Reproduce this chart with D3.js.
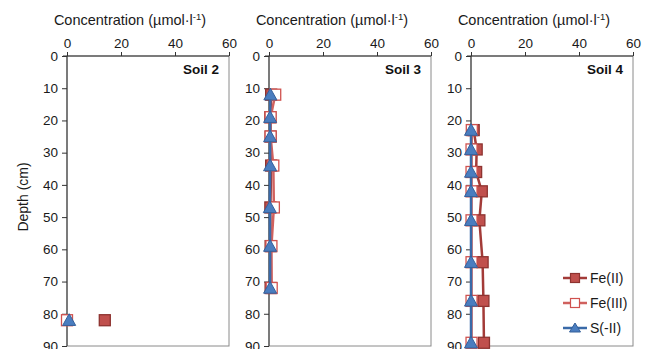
<!DOCTYPE html>
<html>
<head>
<meta charset="utf-8">
<script src="https://cdn.jsdelivr.net/npm/d3@7"></script>
<style>
  body { margin: 0; background: white; }
  svg { display: block; font-family: "Liberation Sans", Arial, sans-serif; }
</style>
</head>
<body>
<div id="chart"></div>
<script>
// panel names
const soils = ["Soil 2", "Soil 3", "Soil 4"];
const seriesNames = ["Fe(II)", "Fe(III)", "S(-II)"];

// depth (cm) per soil
const depthSoil2 = [82];
const depthSoil3 = [12, 19, 25, 34, 47, 59, 72];
const depthSoil4 = [23, 29, 36, 42, 51, 64, 76, 89];

// concentrations (µmol/l)
const fe2Soil2 = [14];
const fe3Soil2 = [0];
const sSoil2 = [0.8];

const fe2Soil3 = [0.8, 0.5, 0.6, 0.8, 0.5, 0.6, 0.6];
const fe3Soil3 = [2.3, 0.6, 0.6, 1.6, 1.8, 0.9, 1.0];
const sSoil3 = [0.5, 0.4, 0.4, 0.4, 0.3, 0.4, 0.4];

const fe2Soil4 = [1.0, 2.1, 1.9, 4.0, 3.1, 4.3, 4.6, 4.8];
const fe3Soil4 = [0.3, 0.2, 0.2, 0.2, 0.2, 0.2, 0.2, 0.2];
const sSoil4 = [0, 0, 0, 0, 0, 0, 0, 0];

const concTicks = [0, 20, 40, 60];
const depthTicks = [0, 10, 20, 30, 40, 50, 60, 70, 80, 90];

const panels = [
    { name: soils[0], depth: depthSoil2, series: [fe2Soil2, fe3Soil2, sSoil2] },
    { name: soils[1], depth: depthSoil3, series: [fe2Soil3, fe3Soil3, sSoil3] },
    { name: soils[2], depth: depthSoil4, series: [fe2Soil4, fe3Soil4, sSoil4] }
];

const styles = [
    { line: "#a33b38", fill: "#c0504d", stroke: "#8e3330", shape: "square" },
    { line: "#d0615e", fill: "#ffffff", stroke: "#d0524f", shape: "square" },
    { line: "#3a6aa8", fill: "#4a7dbf", stroke: "#35609a", shape: "triangle" }
];

const width = 651, height = 349;
const panelLeft = [67, 269, 471];
const panelW = 162;
const plotTop = 56, plotH = 290;
const textColor = "#1a1a1a";

const svg = d3.select("#chart").append("svg")
    .attr("width", width)
    .attr("height", height);

const y = d3.scaleLinear().domain([0, 90]).range([plotTop, plotTop + plotH]);

// shared y-axis title
svg.append("text")
    .attr("transform", `translate(28, ${y(45) - 4}) rotate(-90)`)
    .attr("text-anchor", "middle")
    .attr("font-size", 14)
    .attr("fill", textColor)
    .text("Depth (cm)");

function drawMarker(g, shape, cx, cy, st) {
    if (shape === "square") {
        g.append("rect")
            .attr("x", cx - 5.5).attr("y", cy - 5.5)
            .attr("width", 11).attr("height", 11)
            .attr("fill", st.fill)
            .attr("stroke", st.stroke)
            .attr("stroke-width", 1.3);
    } else {
        const s = 6.5;
        g.append("path")
            .attr("d", `M${cx},${cy - s} L${cx + s},${cy + s * 0.8} L${cx - s},${cy + s * 0.8} Z`)
            .attr("fill", st.fill)
            .attr("stroke", st.stroke)
            .attr("stroke-width", 1);
    }
}

panels.forEach((p, i) => {
    const x0 = panelLeft[i];
    const x = d3.scaleLinear().domain([0, 60]).range([x0, x0 + panelW]);
    const g = svg.append("g");

    // plot frame
    g.append("rect")
        .attr("x", x0).attr("y", plotTop)
        .attr("width", panelW).attr("height", plotH)
        .attr("fill", "white")
        .attr("stroke", "#8a8a8a")
        .attr("stroke-width", 1);

    // axis title
    g.append("text")
        .attr("x", x0 + 63)
        .attr("y", 25)
        .attr("text-anchor", "middle")
        .attr("font-size", 14.5)
        .attr("fill", textColor)
        .html("Concentration (µmol·l<tspan dy='-5' font-size='9.5'>-1</tspan><tspan dy='5'>)</tspan>");

    // top axis
    const xAxis = g.append("g")
        .attr("transform", `translate(0, ${plotTop})`)
        .call(d3.axisTop(x).tickValues(concTicks).tickSize(4).tickPadding(4));
    xAxis.selectAll("text").attr("font-size", 13.5).attr("fill", textColor)
        .attr("font-family", "Liberation Sans, Arial, sans-serif");
    xAxis.selectAll("line").attr("stroke", "#333");
    xAxis.select(".domain").attr("stroke", "#333").attr("d", `M${x0 - 4},0H${x0 + panelW}`);

    // left axis
    const yAxis = g.append("g")
        .attr("transform", `translate(${x0}, 0)`)
        .call(d3.axisLeft(y).tickValues(depthTicks).tickSize(5).tickPadding(4));
    yAxis.selectAll("text").attr("font-size", 13.5).attr("fill", textColor)
        .attr("font-family", "Liberation Sans, Arial, sans-serif");
    yAxis.selectAll("line").attr("stroke", "#333");
    yAxis.select(".domain").attr("stroke", "#333").attr("d", `M0,${plotTop}V${plotTop + plotH}`);

    // soil label
    g.append("text")
        .attr("x", x0 + panelW - 10)
        .attr("y", 74)
        .attr("text-anchor", "end")
        .attr("font-size", 13.5)
        .attr("font-weight", "bold")
        .attr("fill", "#111")
        .text(p.name);

    // series
    p.series.forEach((vals, si) => {
        const st = styles[si];
        const pts = vals.map((v, k) => [x(v), y(p.depth[k])]);
        if (pts.length > 1) {
            g.append("path")
                .attr("d", d3.line()(pts))
                .attr("fill", "none")
                .attr("stroke", st.line)
                .attr("stroke-width", 2.5);
        }
        pts.forEach(pt => drawMarker(g, st.shape, pt[0], pt[1], st));
    });
});

// legend
const legend = svg.append("g");
const legendY = [278, 303, 328];
seriesNames.forEach((name, i) => {
    const st = styles[i];
    legend.append("line")
        .attr("x1", 563).attr("x2", 587)
        .attr("y1", legendY[i]).attr("y2", legendY[i])
        .attr("stroke", st.line)
        .attr("stroke-width", 2.5);
    if (st.shape === "square") {
        legend.append("rect")
            .attr("x", 575 - 4.5).attr("y", legendY[i] - 4.5)
            .attr("width", 9).attr("height", 9)
            .attr("fill", st.fill).attr("stroke", st.stroke).attr("stroke-width", 1.2);
    } else {
        legend.append("path")
            .attr("d", `M575,${legendY[i] - 5} L580.5,${legendY[i] + 4} L569.5,${legendY[i] + 4} Z`)
            .attr("fill", st.fill).attr("stroke", st.stroke);
    }
    legend.append("text")
        .attr("x", 590)
        .attr("y", legendY[i] + 5)
        .attr("font-size", 14)
        .attr("fill", textColor)
        .text(name);
});
</script>
</body>
</html>
